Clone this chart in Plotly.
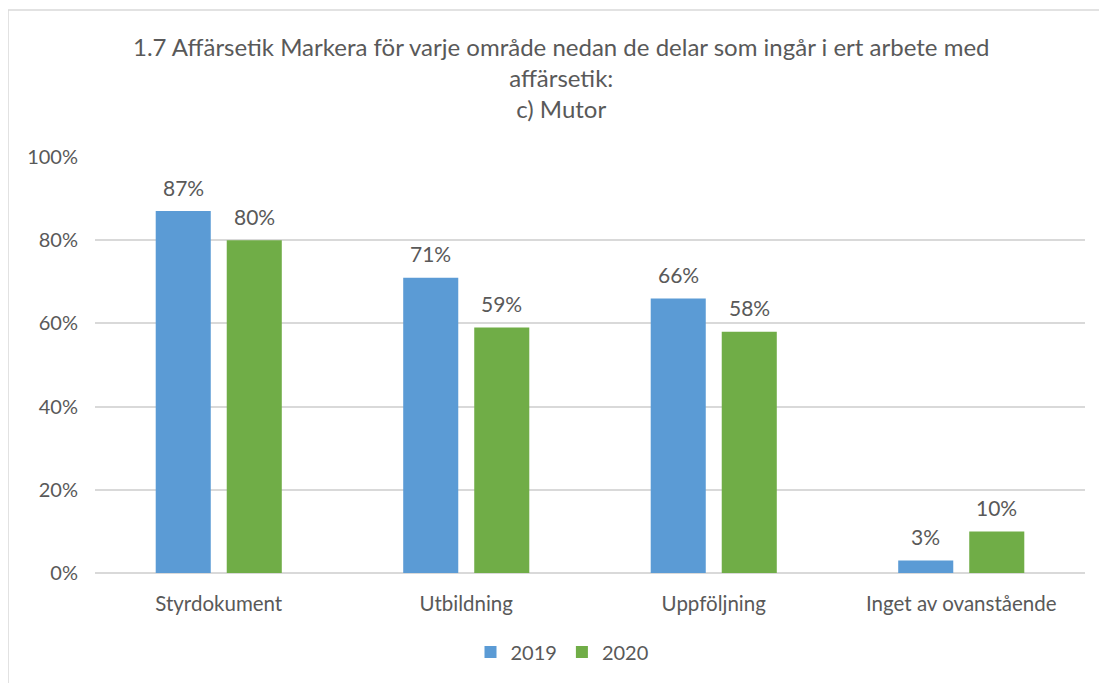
import plotly.graph_objects as go

categories = ["Styrdokument", "Utbildning", "Uppföljning", "Inget av ovanstående"]
series_names = ["2019", "2020"]
values_2019 = [87, 71, 66, 3]
values_2020 = [80, 59, 58, 10]
colors = ["#5B9BD5", "#70AD47"]
y_ticks = [0, 20, 40, 60, 80, 100]
y_tick_labels = ["0%", "20%", "40%", "60%", "80%", "100%"]
title_lines = [
    "1.7 Affärsetik Markera för varje område nedan de delar som ingår i ert arbete med",
    "affärsetik:",
    "c) Mutor",
]

FONT = "Lato, 'Open Sans', sans-serif"
TXT = "#595959"

W, H = 1107, 683
OFF = 8  # page body margin offset
# target window coordinates of plot area
PX0, PX1, PY0, PY1 = 95, 1085, 157, 573
L = PX0 - OFF
T = PY0 - OFF
R = W - (PX1 - OFF)
B = H - (PY1 - OFF)
pw, ph = W - L - R, H - T - B


def px_x(wx):
    return (wx - PX0) / pw


def px_y(wy):
    return (PY1 - wy) / ph


fig = go.Figure()
for name, vals, col in zip(series_names, [values_2019, values_2020], colors):
    fig.add_trace(go.Bar(x=categories, y=vals, name=name, marker=dict(color=col, line=dict(width=0))))

# data labels as annotations
slot = 71
for i, vals in enumerate([values_2019, values_2020]):
    off = -slot / 2 if i == 0 else slot / 2
    for c, v in zip(categories, vals):
        fig.add_annotation(x=c, y=v, xref="x", yref="y", text=f"{v}%", showarrow=False,
                           xshift=off, yshift=24, font=dict(family=FONT, size=21, color=TXT))

# title
fig.add_annotation(xref="paper", yref="paper", x=px_x(561), y=px_y(77),
                   text="<br>".join(title_lines), showarrow=False, align="center",
                   font=dict(family=FONT, size=24, color=TXT), xanchor="center", yanchor="middle")

# outer chart border (partially cropped)
fig.add_shape(type="rect", xref="paper", yref="paper",
              x0=px_x(8), x1=px_x(1130),
              y0=px_y(720), y1=px_y(10),
              line=dict(color="#d9d9d9", width=1.5), fillcolor="rgba(0,0,0,0)", layer="below")

fig.update_layout(
    width=W, height=H,
    margin=dict(l=L, r=R, t=T, b=B),
    paper_bgcolor="white", plot_bgcolor="white",
    barmode="group", bargap=0.426, bargroupgap=0.225,
    font=dict(family=FONT, color=TXT, size=17),
    showlegend=True,
    legend=dict(orientation="h", x=px_x(562), xanchor="center", y=px_y(652),
                yanchor="middle", font=dict(family=FONT, size=20, color=TXT),
                itemwidth=30, traceorder="normal"),
    xaxis=dict(showgrid=False, showline=False, ticks="", ticklabelstandoff=16,
               tickfont=dict(family=FONT, size=20.5, color=TXT)),
    yaxis=dict(range=[0, 100], tickvals=y_ticks, ticktext=y_tick_labels, showgrid=True,
               gridcolor="#d9d9d9", gridwidth=1.5, zeroline=True, zerolinecolor="#d9d9d9", zerolinewidth=1.5,
               showline=False, ticks="", ticklen=0, ticklabelstandoff=16,
               tickfont=dict(family=FONT, size=20, color=TXT)),
)

fig.write_html("out.html")
